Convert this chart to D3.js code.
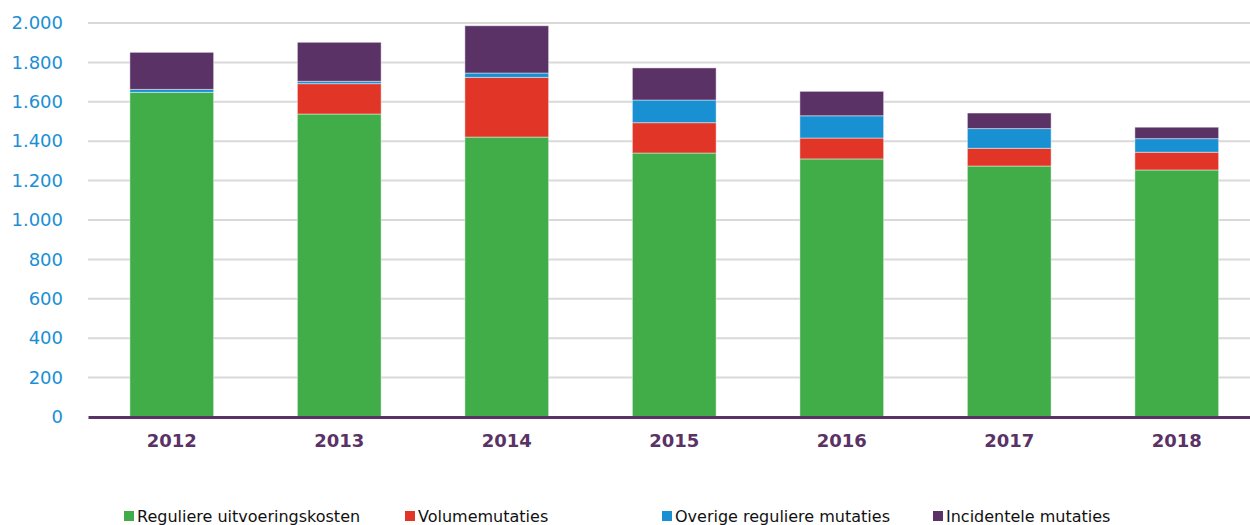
<!DOCTYPE html>
<html>
<head>
<meta charset="utf-8">
<script src="https://cdn.jsdelivr.net/npm/d3@7"></script>
<style>
  body { margin: 0; background: #fff; }
  svg { display: block; font-family: "DejaVu Sans", Verdana, sans-serif; }
</style>
</head>
<body>
<div id="chart-area"></div>
<script>
const svgWidth = 1250,
      svgHeight = 525;
const margin = {left: 88, right: -10.5, top: 23, bottom: 108};

const areaWidth = svgWidth - margin.left - margin.right;
const areaHeight = svgHeight - margin.top - margin.bottom;

// data
const years = ["2012", "2013", "2014", "2015", "2016", "2017", "2018"];
const regulier = [1648, 1538, 1421, 1340, 1310, 1274, 1254];
const volume = [0, 154, 303, 154, 106, 90, 90];
const overig = [15, 12, 22, 115, 113, 100, 69];
const incidenteel = [188, 198, 240, 163, 124, 79, 58];
const seriesNames = ["Reguliere uitvoeringskosten", "Volumemutaties", "Overige reguliere mutaties", "Incidentele mutaties"];
const colors = ["#41ad49", "#e03527", "#1890d2", "#5a3266"];
const yTicks = [0, 200, 400, 600, 800, 1000, 1200, 1400, 1600, 1800, 2000];

const keys = ["regulier", "volume", "overig", "incidenteel"];
const table = years.map((yr, i) => ({
  year: yr,
  regulier: regulier[i],
  volume: volume[i],
  overig: overig[i],
  incidenteel: incidenteel[i]
}));

const svg = d3.select("#chart-area")
  .append("svg")
  .attr("width", svgWidth)
  .attr("height", svgHeight);

const area = svg.append("g")
  .attr("transform", `translate(${margin.left}, ${margin.top})`);

const x = d3.scaleBand().domain(years).range([0, areaWidth]).paddingInner(0.5).paddingOuter(0.25);
const y = d3.scaleLinear().domain([0, 2000]).range([areaHeight, 0]);

// gridlines
area.append("g")
  .selectAll("line")
  .data(yTicks.filter(d => d > 0))
  .enter().append("line")
  .attr("x1", 0)
  .attr("x2", areaWidth)
  .attr("y1", d => y(d))
  .attr("y2", d => y(d))
  .attr("stroke", "#d9d9d9")
  .attr("stroke-width", 2);

// y axis labels
const yAxisGroup = area.append("g")
  .call(d3.axisLeft(y).tickValues(yTicks).tickSize(0).tickPadding(25)
    .tickFormat(d => d3.format(",")(d).replace(/,/g, ".")));
yAxisGroup.select(".domain").remove();
yAxisGroup.selectAll("text")
  .attr("fill", "#1a8fd6")
  .attr("font-size", "18px")
  .attr("font-family", "DejaVu Sans, sans-serif");

// stacked bars
const stacked = d3.stack().keys(keys)(table);

area.append("g")
  .selectAll("g")
  .data(stacked)
  .enter().append("g")
  .attr("fill", (d, i) => colors[i])
  .selectAll("rect")
  .data(d => d)
  .enter().append("rect")
  .attr("x", d => x(d.data.year))
  .attr("width", x.bandwidth())
  .attr("y", d => y(d[1]))
  .attr("height", d => y(d[0]) - y(d[1]))
  .attr("stroke", "rgba(255,255,255,0.45)")
  .attr("stroke-width", 1);

// x axis
const xAxisGroup = area.append("g")
  .attr("transform", `translate(0, ${areaHeight})`)
  .call(d3.axisBottom(x).tickSize(0).tickPadding(17));
xAxisGroup.select(".domain")
  .attr("stroke", "#5a3266")
  .attr("stroke-width", 3);
xAxisGroup.selectAll("text")
  .attr("fill", "#5a3266")
  .attr("font-size", "18px")
  .attr("font-weight", "bold")
  .attr("font-family", "DejaVu Sans, sans-serif");

// legend
const legendX = [124, 405, 662, 933];
const legend = svg.append("g")
  .selectAll("g")
  .data(seriesNames)
  .enter().append("g")
  .attr("transform", (d, i) => `translate(${legendX[i]}, 511)`);

legend.append("rect")
  .attr("width", 10)
  .attr("height", 10)
  .attr("fill", (d, i) => colors[i]);

legend.append("text")
  .attr("x", 13)
  .attr("y", 11)
  .attr("font-size", "16px")
  .attr("fill", "#111")
  .text(d => d);
</script>
</body>
</html>
